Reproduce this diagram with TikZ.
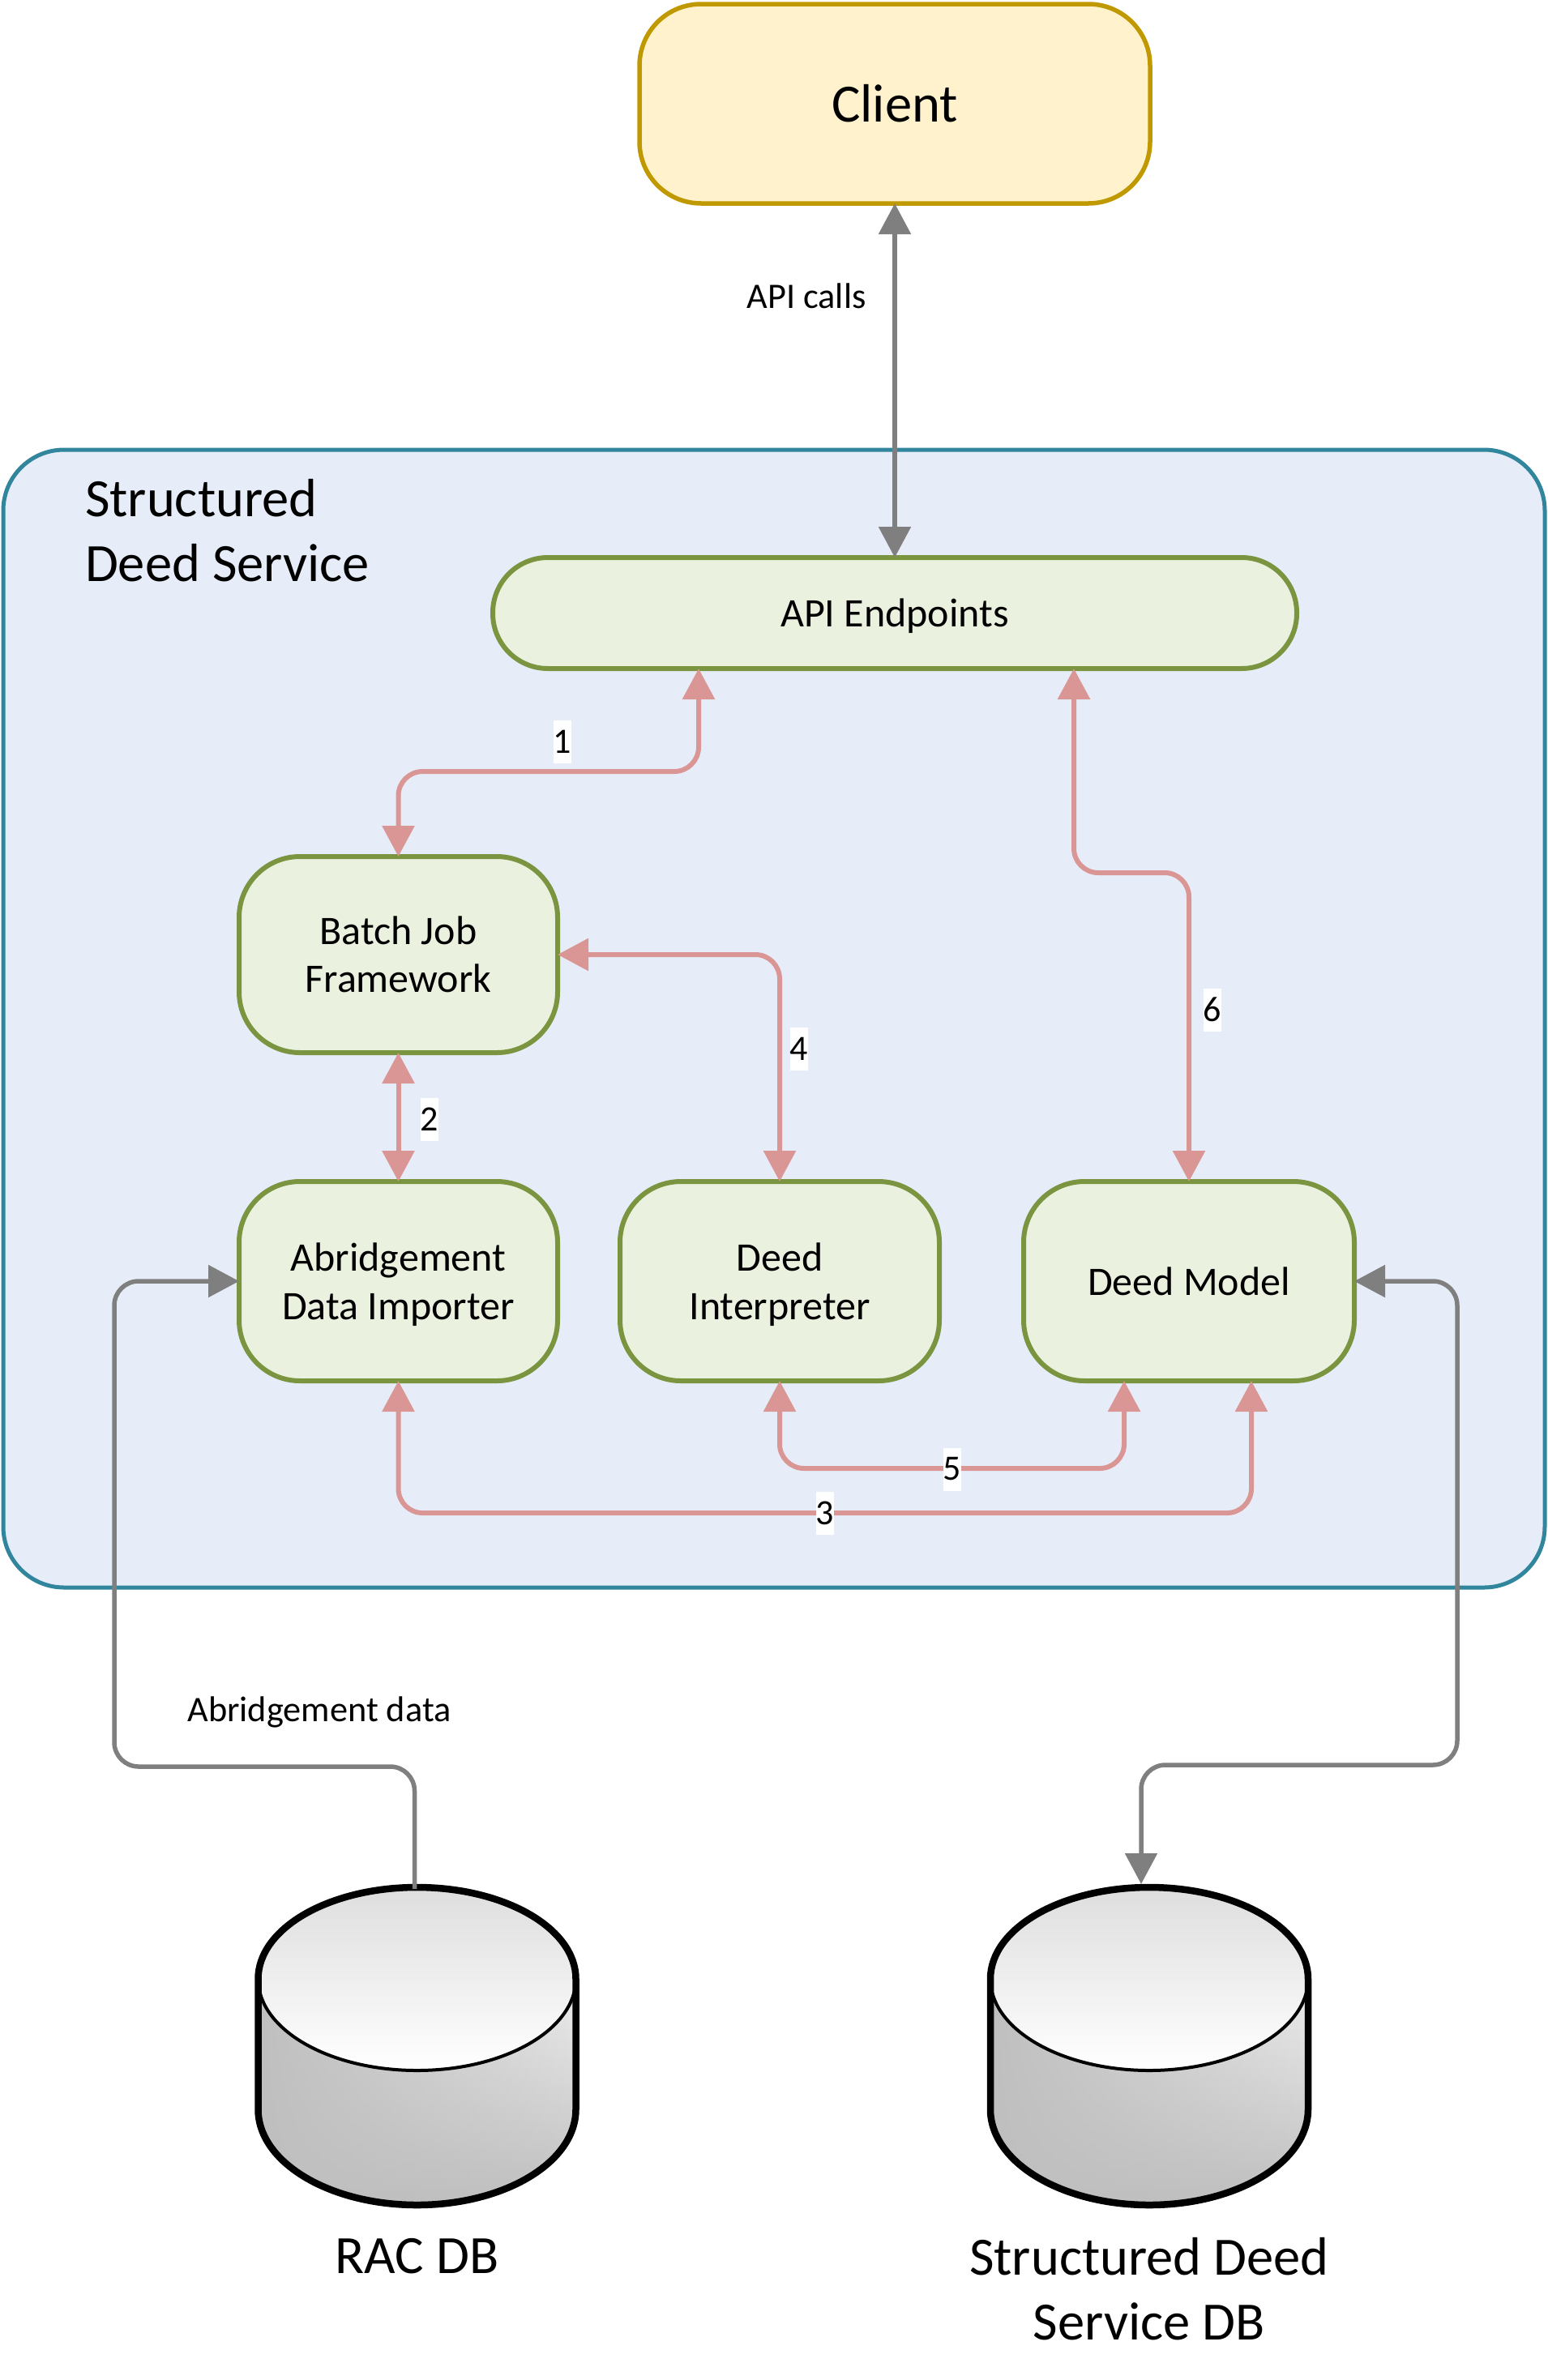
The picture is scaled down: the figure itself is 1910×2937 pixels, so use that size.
\documentclass[tikz,border=0pt]{standalone}
\usepackage{fontspec}
\setmainfont{Carlito}
\usepackage{tikz}
\usetikzlibrary{positioning}
\usetikzlibrary{arrows.meta}
\usetikzlibrary{fadings}
\definecolor{clientfill}{HTML}{FFF2CC}
\definecolor{clientline}{HTML}{C09900}
\definecolor{servicefill}{HTML}{E6EDF8}
\definecolor{serviceline}{HTML}{31859C}
\definecolor{compfill}{HTML}{EAF1DF}
\definecolor{compline}{HTML}{7A9440}
\definecolor{flowred}{HTML}{DA9694}
\definecolor{flowgray}{HTML}{7F7F7F}
\definecolor{drumgray}{HTML}{BFBFBF}
\definecolor{drumtop}{HTML}{DEDEDE}

\begin{document}
\begin{tikzpicture}[
            x = 1pt,
            y = -1pt,
            > = {Triangle[length=38pt,width=39pt]}, % arrow head style
            outer sep = 0pt,
            comp/.style = {
                draw = compline,
                fill = compfill,
                line width = 6pt,
                rounded corners = 75pt,
                align = center,
                font = \fontsize{50}{59.5}\selectfont
            },
            title/.style = {
                inner sep = 0pt,
                align = center,
                font = \fontsize{66.5}{80}\selectfont
            },
            num/.style = {
                fill = white,
                inner sep = 0pt,
                minimum width = 22.5pt,
                minimum height = 53pt,
                font = \fontsize{44}{53}\selectfont
            },
            note/.style = {
                inner sep = 0pt,
                font = \fontsize{44.3}{53}\selectfont
            },
            flow/.style = {
                <->,
                draw = flowred,
                line width = 6pt,
                rounded corners = 30pt
            },
            datalink/.style = {
                draw = flowgray,
                line width = 5.5pt,
                rounded corners = 30pt
            }
        ]

        \useasboundingbox (0,0) rectangle (1910,2937);

        % service frame
        \node[draw = serviceline, fill = servicefill, line width = 5pt, rounded corners = 75pt,
              minimum width = 1902pt, minimum height = 1404pt] (Service) at (955,1257) {};
        \node[title, anchor = west, align = left] (ServiceName) at (105,655) {Structured\\Deed Service};

        % client and endpoints
        \node[draw = clientline, fill = clientfill, line width = 5.5pt, rounded corners = 76pt,
              minimum width = 630pt, minimum height = 246pt, title] (Client) at (1104,128) {Client};
        \node[comp, rounded corners = 68pt, minimum width = 992pt, minimum height = 137pt, text depth = 0pt]
              (API) [below = 437pt of Client] {API Endpoints};

        % components
        \node[comp, minimum width = 393pt, minimum height = 242pt] (Batch) at (491.5,1178) {Batch Job\\Framework};
        \node[comp, minimum width = 393pt, minimum height = 246pt, text depth = 0pt] (Importer) [below = 159pt of Batch] {Abridgement\\Data Importer};
        \node[comp, minimum width = 394pt, minimum height = 246pt, text depth = 0pt] (Interpreter) [right = 77pt of Importer] {Deed\\Interpreter};
        \node[comp, minimum width = 408pt, minimum height = 246pt] (Model) [right = 104pt of Interpreter] {Deed Model};

        % databases
        \node[minimum width = 392pt, minimum height = 400pt] (RAC) at (514.5,2525) {};
        \node[minimum width = 392pt, minimum height = 400pt] (SDS) at (1418,2525) {};
        \node[title] (RACName) [below = 37pt of RAC] {RAC DB};
        \node[title] (SDSName) [below = 36pt of SDS] {Structured Deed\\Service DB};

        \foreach \db in {RAC,SDS} {
            \begin{scope}[shift = {(\db.center)}, y = 1pt]
                \path[top color = white, bottom color = drumgray]
                    (-196,-78) -- (-196,83) arc[start angle=180, end angle=0, x radius=196pt, y radius=113pt]
                    -- (196,-78) arc[start angle=0, end angle=-180, x radius=196pt, y radius=118pt] -- cycle;
                \fill[drumgray, path fading = east]
                    (-196,-78) -- (-196,83) arc[start angle=180, end angle=0, x radius=196pt, y radius=113pt]
                    -- (196,-78) arc[start angle=0, end angle=-180, x radius=196pt, y radius=118pt] -- cycle;
                \draw[black, line width = 4pt, top color = drumtop, bottom color = white]
                    (0,83) ellipse[x radius=196pt, y radius=113pt];
                \draw[black, line width = 8.5pt]
                    (-196,-78) -- (-196,83) arc[start angle=180, end angle=0, x radius=196pt, y radius=113pt]
                    -- (196,-78) arc[start angle=0, end angle=-180, x radius=196pt, y radius=118pt] -- cycle;
            \end{scope}
        }

        % calls
        \path[flowgray, draw, <->, line width = 5.5pt] (Client.south) -- (API.north);
        \node[note] (APICalls) at (995,365) {API calls};

        \path[flow] ([xshift=-242pt]API.south) -- ++(0,127) -| (Batch.north);
        \path[flow] (Batch.south) -- (Importer.north);
        \path[flow] (Batch.east) -| (Interpreter.north);
        \path[flow] ([xshift=221pt]API.south) -- ++(0,252) -| (Model.north);
        \path[flow] (Interpreter.south) -- ++(0,108) -| ([xshift=-80pt]Model.south);
        \path[flow] (Importer.south) -- ++(0,163) -| ([xshift=77pt]Model.south);

        \node[num] (One) at (694,915) {1};
        \node[num] (Two) at (530,1381) {2};
        \node[num] (Three) at (1018,1867) {3};
        \node[num] (Four) at (986,1294) {4};
        \node[num] (Five) at (1175,1813) {5};
        \node[num] (Six) at (1496,1246) {6};

        % database links
        \path[datalink, ->] ([xshift=-3pt]RAC.north) ++(0,6) |- (141,2180) |- (Importer.west);
        \node[note] (AbridgementData) at (394,2113) {Abridgement data};
        \path[datalink, <->] (Model.east) -| (1798,2178) -| ([xshift=-10pt]SDS.north);

\end{tikzpicture}
\end{document}
